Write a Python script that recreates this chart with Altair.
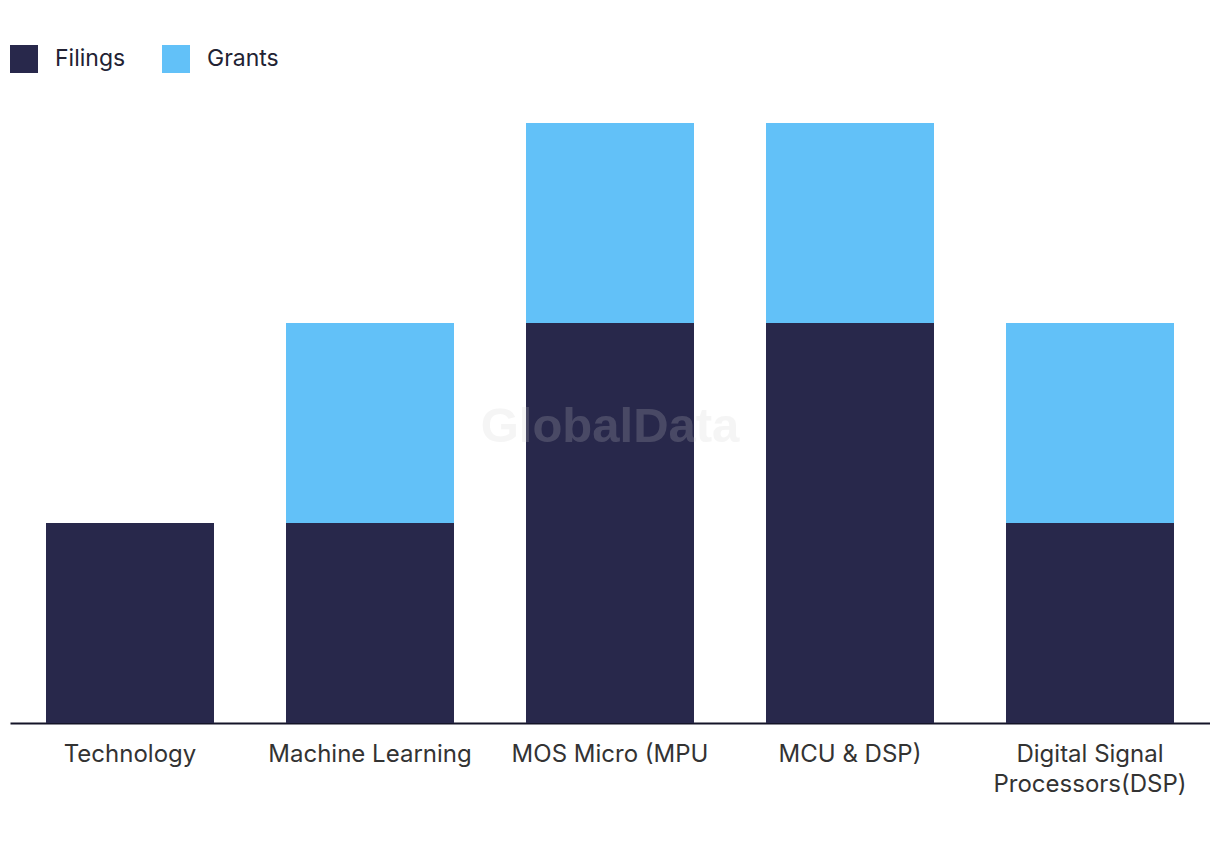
import altair as alt
import pandas as pd

categories = ["Technology", "Machine Learning", "MOS Micro (MPU", "MCU & DSP)", "Digital Signal Processors(DSP)"]
filings = [1, 1, 2, 2, 1]
grants = [0, 1, 1, 1, 1]
series = ["Filings", "Grants"]
colors = ["#28284b", "#62c1f8"]

rows = []
for c, f, g in zip(categories, filings, grants):
    rows.append({"category": c, "series": "Filings", "value": f, "order": 0})
    rows.append({"category": c, "series": "Grants", "value": g, "order": 1})
df = pd.DataFrame(rows)

FONT = "Inter"

bars = alt.Chart(df).mark_bar().encode(
    x=alt.X("category:N", sort=categories,
            scale=alt.Scale(paddingInner=0.3, paddingOuter=0.15),
            axis=alt.Axis(title=None, labelAngle=0, ticks=False, grid=False,
                          domainColor="#141428", domainWidth=2,
                          labelFontSize=24, labelColor="#333333", labelFont=FONT,
                          labelPadding=19, labelLineHeight=30, labelLimit=400,
                          labelExpr="datum.label == 'Digital Signal Processors(DSP)' ? ['Digital Signal', 'Processors(DSP)'] : datum.label")),
    y=alt.Y("value:Q", stack="zero", scale=alt.Scale(domain=[0, 3], nice=False),
            axis=None),
    color=alt.Color("series:N", sort=series,
                    scale=alt.Scale(domain=series, range=colors),
                    legend=alt.Legend(title=None, orient="none", direction="horizontal",
                                      legendX=0, legendY=-78,
                                      symbolType="square", symbolSize=784,
                                      symbolStrokeWidth=0, symbolOpacity=1,
                                      labelFontSize=23, labelFont=FONT, labelColor="#222233",
                                      labelOffset=17, columnPadding=36)),
    order=alt.Order("order:Q"),
)

wm = alt.Chart(pd.DataFrame({"t": ["GlobalData"]})).mark_text(
    font="Liberation Sans", fontWeight="bold", fontSize=49,
    color="#cecece", opacity=0.2, align="center", baseline="middle"
).encode(text="t:N", x=alt.value(600), y=alt.value(304))

chart = alt.layer(bars, wm).properties(
    width=1200, height=600,
    autosize=alt.AutoSizeParams(type="none"),
    padding={"left": 2, "top": 115, "right": 0, "bottom": 110},
).configure_view(stroke=None)

chart.save("out.html", embed_options={"renderer": "svg", "actions": False})
